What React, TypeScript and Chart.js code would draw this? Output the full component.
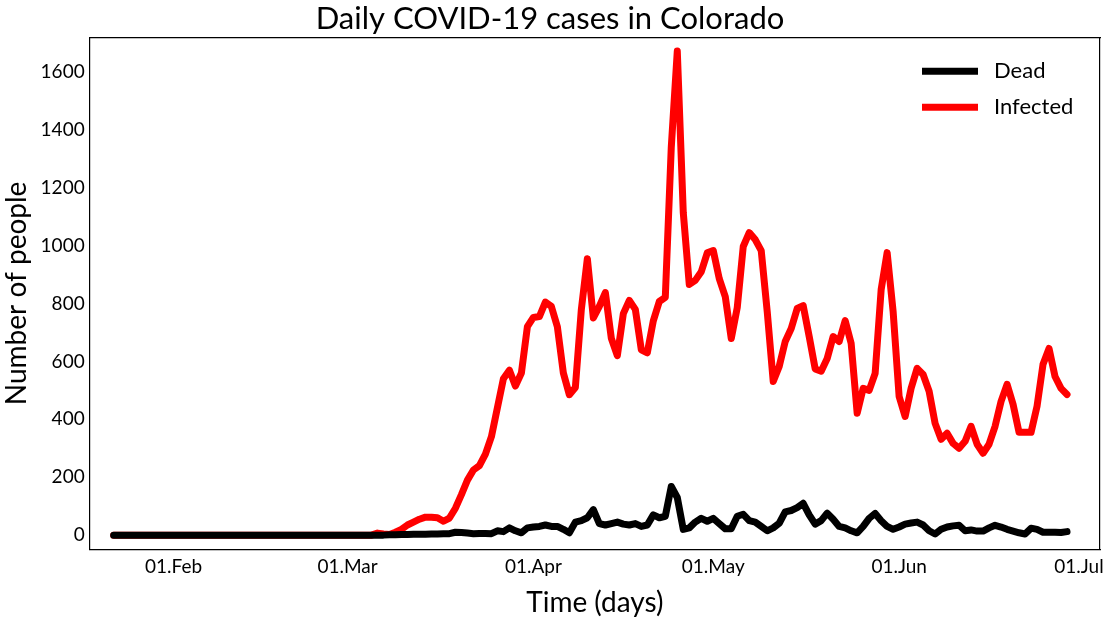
import React, { useEffect, useRef } from "react";
import { Chart, registerables } from "chart.js";
Chart.register(...registerables);

// day index 0 = 22 Jan 2020
const tickDays = [10, 39, 70, 100, 131, 161];
const tickLabels = ["01.Feb", "01.Mar", "01.Apr", "01.May", "01.Jun", "01.Jul"];
const yTicks = [0, 200, 400, 600, 800, 1000, 1200, 1400, 1600];

const infectedRise = [7, 4, 2, 10, 20, 35, 45, 55, 62, 62, 60, 48, 59, 93, 140, 190, 225, 240, 280, 340,
  440, 540, 570, 515, 560, 720, 752, 755, 805, 790, 720, 560, 485, 510, 780, 955, 750, 790, 838, 680,
  620, 765, 811, 780, 640, 630, 740, 807, 821, 1341, 1672, 1114, 866, 880, 910, 975, 983, 886, 824, 679,
  786, 997, 1045, 1021, 983, 772, 531, 583, 669, 714, 783, 793, 686, 574, 566, 610, 686, 669, 741, 662,
  421, 507, 500, 559, 848, 976, 772, 479, 410, 507, 576, 555, 497, 386, 331, 352, 317, 300, 324, 376,
  314, 283, 314, 376, 462, 521, 452, 355, 355, 355, 445, 590, 645, 548, 507, 486];
const infected = [...Array(44).fill(0), ...infectedRise];

const deadRise = [0, 0, 1, 1, 2, 2, 3, 3, 3, 4, 4, 5, 5,
  10, 9, 7, 5, 6, 6, 5, 15, 12, 25, 15, 8, 25, 28, 30, 35, 30, 30, 20, 8, 45, 50, 60, 88, 40, 35, 40,
  45, 38, 35, 40, 30, 35, 70, 60, 65, 168, 130, 20, 25, 45, 58, 48, 58, 40, 22, 22, 65, 72, 50, 45, 30,
  15, 25, 41, 80, 85, 95, 110, 70, 38, 50, 76, 55, 30, 25, 15, 8, 30, 58, 75, 50, 30, 20, 28, 38, 42,
  45, 35, 15, 4, 20, 28, 32, 34, 15, 18, 14, 14, 25, 34, 28, 20, 14, 8, 4, 24, 20, 10, 10, 10, 9, 12];
const dead = [...Array(160 - deadRise.length).fill(0), ...deadRise];

const FONT = "Lato";

export default function App() {
  const ref = useRef<HTMLCanvasElement>(null);
  useEffect(() => {
    document.body.style.margin = "0";
    const toPts = (arr: number[]) => arr.map((y, i) => ({ x: i, y }));
    const legendPlugin = {
      id: "innerLegend",
      afterDraw(chart: any) {
        const { ctx, chartArea } = chart;
        const items = [["Dead", "#000000"], ["Infected", "#ff0000"]];
        ctx.save();
        ctx.font = `22px ${FONT}`;
        ctx.textBaseline = "middle";
        items.forEach(([t, c], i) => {
          const y = chartArea.top + 34 + i * 36;
          const x0 = chartArea.right - 178;
          ctx.strokeStyle = c;
          ctx.lineWidth = 7;
          ctx.beginPath();
          ctx.moveTo(x0, y);
          ctx.lineTo(x0 + 56, y);
          ctx.stroke();
          ctx.fillStyle = "#000";
          ctx.fillText(t, x0 + 72, y);
        });
        ctx.restore();
      },
    };
    const line = { borderWidth: 7, pointRadius: 0, tension: 0, borderJoinStyle: "round", borderCapStyle: "round", clip: false };
    const chart = new Chart(ref.current!, {
      type: "line",
      data: {
        datasets: [
          { label: "Infected", data: toPts(infected), borderColor: "#ff0000", order: 2, ...line },
          { label: "Dead", data: toPts(dead), borderColor: "#000000", order: 1, ...line },
        ],
      },
      options: {
        animation: false,
        responsive: false,
        layout: { padding: { top: 0, right: 15, left: 0, bottom: 2 } },
        plugins: {
          legend: { display: false },
          tooltip: { enabled: false },
          title: { display: true, text: "Daily COVID-19 cases in Colorado", color: "#000", font: { family: FONT, size: 31, weight: "normal" }, padding: { top: 0, bottom: 0 } },
        },
        scales: {
          x: {
            type: "linear", min: -4, max: 164.5,
            afterBuildTicks: (s: any) => { s.ticks = tickDays.map((v) => ({ value: v })); },
            ticks: { color: "#000", font: { family: FONT, size: 19 }, maxRotation: 0, autoSkip: false, padding: 6,
              callback: (v: any) => tickLabels[tickDays.indexOf(Number(v))] },
            grid: { display: false, drawTicks: false },
            border: { color: "#000", width: 1.2 },
            title: { display: true, text: "Time (days)", color: "#000", font: { family: FONT, size: 28 }, padding: { top: 2, bottom: 0 } },
          },
          y: {
            min: -50, max: 1720,
            afterBuildTicks: (s: any) => { s.ticks = yTicks.map((v) => ({ value: v })); },
            ticks: { color: "#000", font: { family: FONT, size: 19 }, padding: 5, callback: (v: any) => String(v) },
            grid: { display: false, drawTicks: false },
            border: { color: "#000", width: 1.2 },
            title: { display: true, text: "Number of people", color: "#000", font: { family: FONT, size: 28 }, padding: { top: 0, bottom: 2 } },
          },
          x2: { type: "linear", position: "top", display: true, ticks: { display: false }, grid: { display: false, drawTicks: false }, border: { color: "#000", width: 1.2 } },
          y2: { type: "linear", position: "right", display: true, ticks: { display: false }, grid: { display: false, drawTicks: false }, border: { color: "#000", width: 1.2 } },
        },
      } as any,
      plugins: [legendPlugin],
    });
    return () => chart.destroy();
  }, []);
  return (
    <div style={{ width: 1115, height: 622 }}>
      <canvas ref={ref} width={1115} height={622} style={{ width: 1115, height: 622 }} />
    </div>
  );
}
